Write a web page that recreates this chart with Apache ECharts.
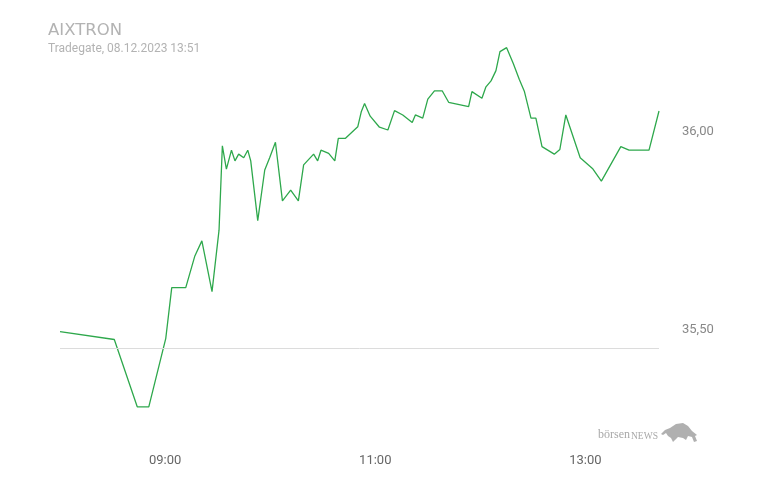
<!DOCTYPE html>
<html><head><meta charset="utf-8">
<script src="https://cdn.jsdelivr.net/npm/echarts@6/dist/echarts.min.js"></script>
<style>html,body{margin:0;padding:0;background:#fff}#c{width:768px;height:480px}</style>
</head><body><div id="c"></div>
<script>
// time in minutes after midnight
var times = [480,511,524.1,530.7,540.4,543.8,551.8,557,561,566.8,570.8,572.7,575,577.9,579.9,582,584.9,587.2,588.9,592.9,596.9,599.7,603,607,611.7,616.1,619.1,624.8,627.1,629,633.4,636.9,638.9,643,650,652,653.9,657.1,662.4,667.2,671,675.7,681.1,682.9,687.1,690,693.8,698.2,701.9,713.3,715.2,720.9,723.2,726.1,728.9,731.2,735,738.8,742.2,745.1,748.9,751.7,755.2,762.2,765.4,768.8,777,784,789.1,800.2,804.9,816.3,822];
var prices = [35.491,35.471,35.301,35.301,35.474,35.602,35.602,35.682,35.720,35.592,35.747,35.960,35.901,35.949,35.922,35.939,35.930,35.949,35.922,35.771,35.899,35.930,35.969,35.821,35.848,35.821,35.912,35.939,35.922,35.949,35.941,35.922,35.979,35.979,36.008,36.046,36.067,36.035,36.007,36.000,36.049,36.038,36.019,36.038,36.030,36.078,36.099,36.099,36.070,36.059,36.097,36.080,36.109,36.124,36.150,36.198,36.208,36.168,36.128,36.098,36.030,36.030,35.958,35.939,35.951,36.038,35.930,35.903,35.871,35.958,35.949,35.949,36.048];
var prevClose = 35.452;
var yTickLabels = [35.5, 36.0];
var title = 'AIXTRON';
var subtitle = 'Tradegate, 08.12.2023 13:51';

var chart = echarts.init(document.getElementById('c'), null, {renderer:'canvas'});
var data = times.map(function(t,i){return [t, prices[i]];});
function pad(n){return (n<10?'0':'')+n;}
chart.setOption({
  animation:false,
  backgroundColor:'#fff',
  textStyle:{fontFamily:'Roboto'},
  title:[
    {text:title, left:43, top:17, textStyle:{fontFamily:'DejaVu Sans', fontSize:16.5, fontWeight:'normal', color:'#b3b3b3'}},
    {text:subtitle, left:43, top:38, textStyle:{fontFamily:'Roboto', fontSize:12, fontWeight:'normal', color:'#b3b3b3'}}
  ],
  grid:{left:60, right:109, top:31, height:396, containLabel:false},
  xAxis:{type:'value', min:480, max:822, interval:60,
    axisLine:{show:false}, axisTick:{show:false}, splitLine:{show:false},
    axisLabel:{color:'#666', fontSize:13, margin:27,
      formatter:function(v){var h=Math.round(v/60); if(h%2===0) return ''; return pad(h)+':00';}}
  },
  yAxis:{type:'value', position:'right', min:35.25, max:36.25, interval:0.25,
    axisLine:{show:false}, axisTick:{show:false}, splitLine:{show:false},
    axisLabel:{color:'#888', fontSize:13, margin:23,
      rich:{a:{color:'#888', fontSize:13, fontFamily:'Roboto', padding:[4,0,0,0]}},
      formatter:function(v){
        for (var i=0;i<yTickLabels.length;i++){ if(Math.abs(v-yTickLabels[i])<1e-6) return '{a|'+v.toFixed(2).replace('.',',')+'}'; }
        return '';
      }}
  },
  series:[{type:'line', data:data, showSymbol:false, symbol:'none',
    lineStyle:{color:'#2ea84c', width:1.3}, itemStyle:{color:'#2ea84c'},
    markLine:{silent:true, symbol:'none', label:{show:false},
      lineStyle:{color:'#dcdcdc', type:'solid', width:1},
      data:[{yAxis:prevClose}]}
  }],
  graphic:[
    {type:'text', left:598, top:429, style:{text:'börsen', fontFamily:'Liberation Serif', fontSize:12, fill:'#a8a8a8'}},
    {type:'text', left:631, top:431, style:{text:'NEWS', fontFamily:'Liberation Serif', fontSize:9.5, fill:'#a8a8a8'}},
    {type:'polygon', shape:{points:[[661,434],[665,430],[670,428],[676,424],[683,423],[688,426],[692,431],[697,435],[695,436],[697,441],[694,442],[692,437],[688,436],[686,440],[683,438],[678,437],[675,440],[673,442],[671,438],[668,436],[666,433],[663,435]]}, style:{fill:'#b0b0b0'}}
  ]
});
</script></body></html>
